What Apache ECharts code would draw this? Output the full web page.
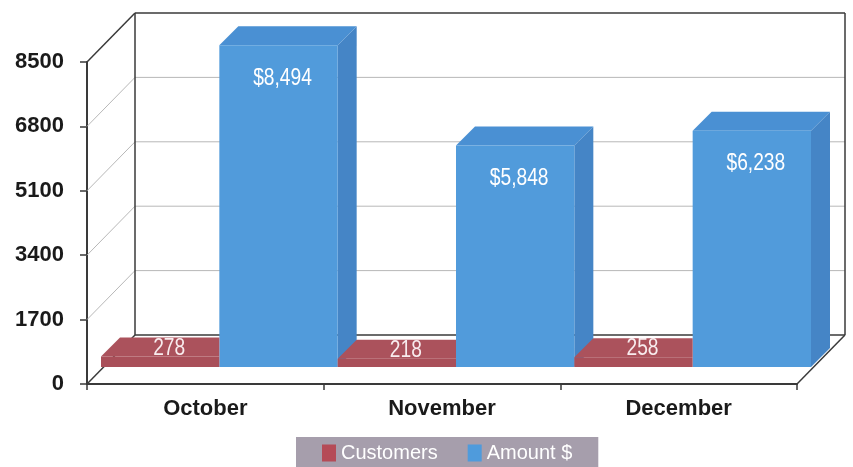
<!DOCTYPE html>
<html>
<head>
<meta charset="utf-8">
<title>Customers and Amount by month</title>
<script src="https://cdn.jsdelivr.net/npm/echarts@6/dist/echarts.min.js"></script>
<style>
    html, body { margin: 0; padding: 0; background: #fff; }
    #main { width: 853px; height: 467px; }
</style>
</head>
<body>
<div id="main"></div>
<script>
var months = ['October', 'November', 'December'];
var customers = [278, 218, 258];
var amounts = [8494, 5848, 6238];
var yTicks = [0, 1700, 3400, 5100, 6800, 8500];

// pseudo 3D look
var WALL_DX = 48, WALL_DY = -49;   // depth of floor and side wall
var BAR_D = 19;                    // depth of a bar
var FRAME = '#3a3a3a';
var GRIDLINE = '#b8b8b8';
var BASE_FONT = 'Liberation Sans, Arial, sans-serif';
var NARROW = 0.8;                  // squeeze for the "narrow" label font

var BLUE = { front: '#519bdb', top: '#4a90d3', side: '#4585c6' };
var RED = { front: '#a94f59', top: '#ab525c' };

function toPairs(arr) {
    var out = [];
    for (var i = 0; i < arr.length; i++) {
        out.push([i, arr[i]]);
    }
    return out;
}

function line(x1, y1, x2, y2, color, width) {
    return {
        type: 'line',
        shape: { x1: x1, y1: y1, x2: x2, y2: y2 },
        style: { stroke: color, lineWidth: width || 1 }
    };
}

/* narrow looking text: normal font squeezed horizontally */
function narrowText(text, x, y, color) {
    return {
        type: 'text',
        x: x,
        y: y,
        scaleX: NARROW,
        style: {
            text: text, x: 0, y: 0,
            align: 'center', verticalAlign: 'middle',
            fill: color, fontSize: 24, fontFamily: BASE_FONT
        }
    };
}

/* walls and floor, one item per y tick */
function renderFrame(params, api) {
    var cs = params.coordSys;
    var v = api.value(1);
    var y = api.coord([0, v])[1];
    var y0 = api.coord([0, yTicks[0]])[1];
    var x0 = cs.x, x1 = cs.x + cs.width;
    var isEdge = (v === yTicks[0] || v === yTicks[yTicks.length - 1]);
    var c = isEdge ? FRAME : GRIDLINE;
    var w = isEdge ? 1.5 : 1;
    var kids = [
        line(x0, y, x0 + WALL_DX, y + WALL_DY, c, w),
        line(x0 + WALL_DX, y + WALL_DY, x1 + WALL_DX, y + WALL_DY, c, w)
    ];
    if (v === yTicks[0]) {
        kids.push(line(x1, y, x1 + WALL_DX, y + WALL_DY, FRAME, 1.5));
    }
    if (v === yTicks[yTicks.length - 1]) {
        kids.push(line(x0 + WALL_DX, y + WALL_DY, x0 + WALL_DX, y0 + WALL_DY, FRAME, 1.5));
        kids.push(line(x1 + WALL_DX, y + WALL_DY, x1 + WALL_DX, y0 + WALL_DY, FRAME, 1.5));
    }
    return { type: 'group', children: kids };
}

/* blue box: front, top and right side */
function renderAmount(params, api) {
    var idx = api.value(0);
    var top = api.coord([idx, api.value(1)]);
    var base = api.coord([idx, 0]);
    var w = api.size([1, 0])[0] / 2;
    var xl = top[0], xr = xl + w;
    var yt = top[1], yb = base[1];
    var d = BAR_D;
    return {
        type: 'group',
        children: [
            { type: 'polygon', shape: { points: [[xr, yt], [xr + d, yt - d], [xr + d, yb - d], [xr, yb]] }, style: { fill: BLUE.side } },
            { type: 'polygon', shape: { points: [[xl, yt], [xr, yt], [xr + d, yt - d], [xl + d, yt - d]] }, style: { fill: BLUE.top } },
            { type: 'rect', shape: { x: xl, y: yt, width: w, height: yb - yt }, style: { fill: BLUE.front } },
            narrowText('$' + api.value(1).toLocaleString('en-US'), xl + w / 2 + 4, yt + 33, '#ffffff')
        ]
    };
}

/* red slab: right part of its top is hidden by the blue box */
function renderCustomers(params, api) {
    var idx = api.value(0);
    var top = api.coord([idx, api.value(1)]);
    var base = api.coord([idx, 0]);
    var w = api.size([1, 0])[0] / 2;
    var xr = top[0], xl = xr - w;
    var yt = top[1], yb = base[1];
    var d = BAR_D;
    return {
        type: 'group',
        children: [
            { type: 'polygon', shape: { points: [[xl, yt], [xr, yt], [xr, yt - d], [xl + d, yt - d]] }, style: { fill: RED.top } },
            { type: 'rect', shape: { x: xl, y: yt, width: w, height: yb - yt }, style: { fill: RED.front } },
            narrowText(String(api.value(1)), xl + w / 2 + 9, yt - d / 2 + 1, '#f8ecee')
        ]
    };
}

var chart = echarts.init(document.getElementById('main'), null, { renderer: 'canvas' });

var frameData = [];
for (var i = 0; i < yTicks.length; i++) {
    frameData.push([0, yTicks[i]]);
}

chart.setOption({
    animation: false,
    backgroundColor: '#ffffff',
    grid: [
        // front plane: axes, labels
        { left: 87, right: 56, top: 62, bottom: 83, containLabel: false, outerBoundsMode: 'none' },
        // plane where the bars stand
        { left: 101, right: 42, top: 45, bottom: 100, containLabel: false, outerBoundsMode: 'none' }
    ],
    legend: {
        data: ['Customers', 'Amount $'],
        left: 296,
        top: 437,
        padding: [6, 26, 14, 26],
        backgroundColor: '#a69eac',
        itemWidth: 14,
        itemHeight: 17,
        itemGap: 30,
        icon: 'rect',
        selectedMode: false,
        textStyle: { color: '#ffffff', fontSize: 20, fontFamily: BASE_FONT }
    },
    xAxis: [{
        gridIndex: 0,
        type: 'category',
        data: months,
        axisLine: { lineStyle: { color: FRAME, width: 2 } },
        axisTick: { show: true, length: 6, lineStyle: { color: FRAME, width: 1.5 } },
        axisLabel: {
            margin: 14, fontSize: 22, fontWeight: 'bold', color: '#1a1a1a',
            fontFamily: BASE_FONT
        },
        splitLine: { show: false }
    }, {
        gridIndex: 1,
        type: 'category',
        data: months,
        show: false
    }],
    yAxis: [{
        gridIndex: 0,
        type: 'value',
        min: 0,
        max: 8500,
        interval: 1700,
        axisLine: { show: true, lineStyle: { color: FRAME, width: 2 } },
        axisTick: { show: true, length: 7, lineStyle: { color: FRAME, width: 1.5 } },
        axisLabel: {
            margin: 23, fontSize: 22, fontWeight: 'bold', color: '#1a1a1a',
            fontFamily: BASE_FONT,
            formatter: function (v) { return String(v); }
        },
        splitLine: { show: false }
    }, {
        gridIndex: 1,
        type: 'value',
        min: 0,
        max: 8500,
        interval: 1700,
        show: false
    }],
    series: [{
        name: 'frame',
        type: 'custom',
        xAxisIndex: 0,
        yAxisIndex: 0,
        silent: true,
        z: 1,
        renderItem: renderFrame,
        data: frameData
    }, {
        name: 'Amount $',
        type: 'custom',
        xAxisIndex: 1,
        yAxisIndex: 1,
        silent: true,
        z: 2,
        itemStyle: { color: '#4f9bdc' },
        renderItem: renderAmount,
        encode: { x: 0, y: 1 },
        data: toPairs(amounts)
    }, {
        name: 'Customers',
        type: 'custom',
        xAxisIndex: 1,
        yAxisIndex: 1,
        silent: true,
        z: 3,
        itemStyle: { color: '#b54b57' },
        renderItem: renderCustomers,
        encode: { x: 0, y: 1 },
        data: toPairs(customers)
    }]
});
</script>
</body>
</html>
